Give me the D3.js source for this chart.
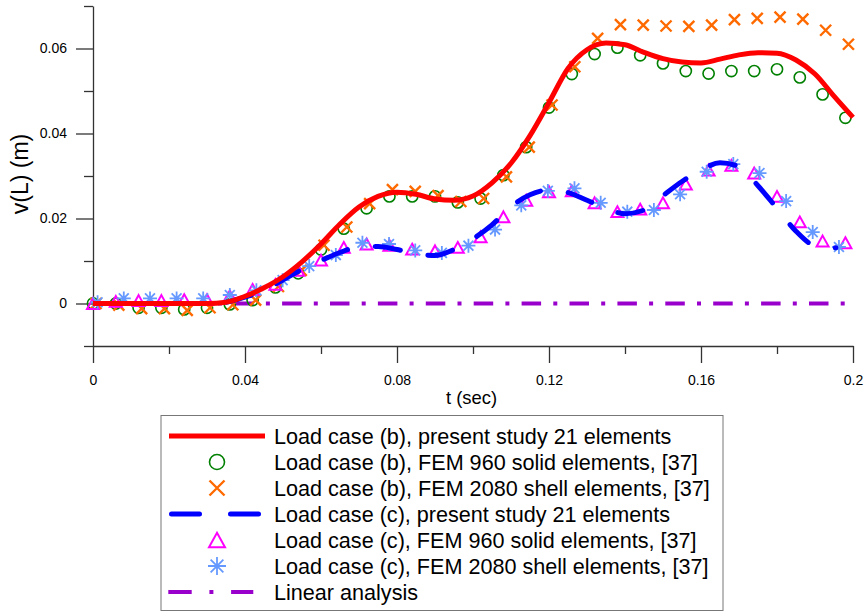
<!DOCTYPE html>
<html><head><meta charset="utf-8">
<script src="https://cdn.jsdelivr.net/npm/d3@7"></script>
<style>
html,body{margin:0;padding:0;background:#fff;}
svg{display:block;font-family:"Liberation Sans",Arial,sans-serif;}
</style></head>
<body>
<svg id="chart" width="866" height="612"></svg>
<script>
// ---- data ----
const xTicksMajor = [0, 0.04, 0.08, 0.12, 0.16, 0.2];
const xTicksMinor = [0.02, 0.06, 0.1, 0.14, 0.18];
const yTicksMajor = [0, 0.02, 0.04, 0.06];
const yTicksMinor = [-0.01, 0.01, 0.03, 0.05, 0.07];

const tRed = [0, 0.01, 0.02, 0.03, 0.035, 0.04, 0.045, 0.05, 0.055, 0.06, 0.065, 0.07, 0.075, 0.08, 0.085, 0.09, 0.095, 0.1, 0.105, 0.11, 0.115, 0.12, 0.125, 0.13, 0.135, 0.14, 0.145, 0.15, 0.155, 0.16, 0.165, 0.17, 0.175, 0.18, 0.185, 0.19, 0.195, 0.2];
const redV = [0, 0, 0, 0, 0.0003, 0.0017, 0.0037, 0.0063, 0.0098, 0.014, 0.0187, 0.0227, 0.0252, 0.0262, 0.0257, 0.0246, 0.0243, 0.0253, 0.0284, 0.033, 0.0395, 0.0473, 0.0553, 0.0597, 0.0613, 0.0609, 0.0591, 0.0576, 0.0568, 0.0566, 0.0575, 0.0585, 0.059, 0.0589, 0.0573, 0.054, 0.0488, 0.0438];
const tBlue = [0, 0.01, 0.02, 0.03, 0.035, 0.04, 0.045, 0.05, 0.055, 0.06, 0.065, 0.07, 0.075, 0.08, 0.085, 0.09, 0.095, 0.1, 0.105, 0.11, 0.115, 0.12, 0.125, 0.13, 0.135, 0.14, 0.145, 0.15, 0.155, 0.16, 0.165, 0.17, 0.175, 0.18, 0.185, 0.19, 0.1955];
const blueV = [0, 0, 0, 0, 0.0003, 0.0015, 0.003, 0.0056, 0.008, 0.0101, 0.012, 0.0133, 0.0134, 0.0127, 0.0117, 0.0113, 0.0127, 0.0152, 0.0185, 0.0228, 0.0256, 0.0267, 0.0261, 0.0243, 0.0224, 0.0211, 0.022, 0.0254, 0.0287, 0.0314, 0.0331, 0.0322, 0.0277, 0.0224, 0.017, 0.0136, 0.0131];

const linT = [0, 0.2];
const linV = [0, 0];

const circT = [0, 0.006, 0.012, 0.018, 0.024, 0.030, 0.036, 0.042, 0.048, 0.054, 0.060, 0.066, 0.072, 0.078, 0.084, 0.090, 0.096, 0.102, 0.108, 0.114, 0.120, 0.126, 0.132, 0.138, 0.144, 0.150, 0.156, 0.162, 0.168, 0.174, 0.180, 0.186, 0.192, 0.198];
const circV = [0, 0, -0.001, -0.001, -0.0014, -0.001, -0.0002, 0.0008, 0.0038, 0.0071, 0.0127, 0.0176, 0.0224, 0.0252, 0.0252, 0.0252, 0.0238, 0.0247, 0.0302, 0.0368, 0.0461, 0.054, 0.0587, 0.0602, 0.0584, 0.0565, 0.0547, 0.0541, 0.0547, 0.0547, 0.0551, 0.0532, 0.0492, 0.0437];

const crossT = [0.0008, 0.0068, 0.0128, 0.0188, 0.0248, 0.0308, 0.0368, 0.0428, 0.0488, 0.0548, 0.0608, 0.0668, 0.0728, 0.0788, 0.0848, 0.0908, 0.0968, 0.1028, 0.1088, 0.1148, 0.1208, 0.1268, 0.1328, 0.1388, 0.1448, 0.1508, 0.1568, 0.1628, 0.1688, 0.1748, 0.1808, 0.1868, 0.1928, 0.1988];
const crossV = [0, -0.0004, -0.0012, -0.0012, -0.0016, -0.001, -0.0003, 0.0008, 0.004, 0.0078, 0.0137, 0.018, 0.0235, 0.0268, 0.0264, 0.0254, 0.024, 0.0247, 0.0298, 0.0368, 0.0467, 0.0557, 0.0624, 0.0656, 0.0655, 0.0653, 0.0652, 0.0655, 0.0668, 0.0671, 0.0674, 0.0669, 0.0643, 0.061];

const triT = [0, 0.006, 0.012, 0.018, 0.024, 0.030, 0.036, 0.042, 0.048, 0.054, 0.060, 0.066, 0.072, 0.078, 0.084, 0.090, 0.096, 0.102, 0.108, 0.114, 0.120, 0.126, 0.132, 0.138, 0.144, 0.150, 0.156, 0.162, 0.168, 0.174, 0.180, 0.186, 0.192, 0.198];
const triV = [0, 0.0005, 0.0007, 0.0007, 0.0009, 0.0009, 0.0018, 0.0033, 0.0045, 0.0078, 0.0102, 0.0132, 0.014, 0.0137, 0.0128, 0.0124, 0.0132, 0.0157, 0.0204, 0.0243, 0.0263, 0.0265, 0.0237, 0.0216, 0.0222, 0.0237, 0.0281, 0.0314, 0.0325, 0.0307, 0.0252, 0.0192, 0.0147, 0.0143];

const astT = [0.0012, 0.0081, 0.015, 0.022, 0.029, 0.036, 0.043, 0.0499, 0.0569, 0.0639, 0.0709, 0.0779, 0.0848, 0.0918, 0.0988, 0.1058, 0.1127, 0.1197, 0.1267, 0.1336, 0.1406, 0.1476, 0.1545, 0.1615, 0.1685, 0.1754, 0.1824, 0.1894, 0.1963];
const astV = [0.0003, 0.0012, 0.0012, 0.0012, 0.0012, 0.002, 0.0031, 0.0055, 0.0088, 0.0114, 0.0143, 0.014, 0.0125, 0.0119, 0.0136, 0.0174, 0.0231, 0.0265, 0.0271, 0.0237, 0.0216, 0.022, 0.0257, 0.031, 0.0328, 0.0307, 0.0241, 0.0168, 0.0133];

const legendLabels = [
  "Load case (b), present study 21 elements",
  "Load case (b), FEM 960 solid elements, [37]",
  "Load case (b), FEM 2080 shell elements, [37]",
  "Load case (c), present study 21 elements",
  "Load case (c), FEM 960 solid elements, [37]",
  "Load case (c), FEM 2080 shell elements, [37]",
  "Linear analysis"
];
const xLabel = "t (sec)";
const yLabel = "v(L) (m)";

// ---- styles ----
const C = {red:"#ff0000", blue:"#0000ff", purple:"#9900cc", green:"#008000",
           orange:"#ff6a00", magenta:"#ff00ff", ast:"#6699ff", axis:"#333"};

const svg = d3.select("#chart");
svg.append("rect").attr("width",866).attr("height",612).attr("fill","#fff");

const x = d3.scaleLinear().domain([0, 0.2]).range([93, 853]);
const y = d3.scaleLinear().domain([-0.01, 0.07]).range([346, 6]);
const fmt = d3.format("~g");

// axes
const gx = svg.append("g").attr("transform","translate(0,346)");
gx.call(d3.axisBottom(x).tickValues(xTicksMajor).tickSize(17).tickSizeOuter(0).tickPadding(12).tickFormat(fmt));
const gxm = svg.append("g").attr("transform","translate(0,346)");
gxm.call(d3.axisBottom(x).tickValues(xTicksMinor).tickSize(8).tickSizeOuter(0).tickFormat(""));
gxm.select(".domain").remove();

const gy = svg.append("g").attr("transform","translate(93,0)");
gy.call(d3.axisLeft(y).tickValues(yTicksMajor).tickSize(17).tickSizeOuter(0).tickPadding(9).tickFormat(fmt));
const gym = svg.append("g").attr("transform","translate(93,0)");
gym.call(d3.axisLeft(y).tickValues(yTicksMinor).tickSize(9).tickSizeOuter(0).tickFormat(""));
gym.select(".domain").remove();

svg.selectAll(".domain, .tick line").attr("stroke", C.axis).attr("stroke-width", 1.3);
svg.selectAll(".tick text").attr("fill","#000").attr("font-size", 14)
   .attr("font-family", "'Liberation Sans', Arial, sans-serif");

svg.append("text").attr("x", 471.5).attr("y", 404).attr("text-anchor","middle")
   .attr("font-size", 18.4).text(xLabel);
svg.append("text").attr("transform","translate(28,174) rotate(-90)").attr("text-anchor","middle")
   .attr("font-size", 23).text(yLabel);

// line generators
const lineGen = d3.line().x(d => x(d[0])).y(d => y(d[1])).curve(d3.curveMonotoneX);
const zip = (a, b) => a.map((v, i) => [v, b[i]]);

// linear analysis
svg.append("path").attr("d", lineGen(zip(linT, linV))).attr("fill","none")
   .attr("stroke", C.purple).attr("stroke-width", 4)
   .attr("stroke-dasharray","19.5,12.2,4,12.2").attr("stroke-dashoffset", 2.5);

// markers
const mk = svg.append("g");
function circleSym(g, cx, cy, r) {
  g.append("circle").attr("cx",cx).attr("cy",cy).attr("r",r).attr("fill","none")
   .attr("stroke", C.green).attr("stroke-width",1.6);
}
function crossSym(g, cx, cy, s) {
  g.append("path").attr("d",`M${cx-s},${cy-s}L${cx+s},${cy+s}M${cx-s},${cy+s}L${cx+s},${cy-s}`)
   .attr("stroke", C.orange).attr("stroke-width",2.4).attr("fill","none");
}
function triSym(g, cx, cy, s) {
  const h = s*0.9;
  g.append("path").attr("d",`M${cx},${cy-h}L${cx+s},${cy+h}L${cx-s},${cy+h}Z`)
   .attr("stroke", C.magenta).attr("stroke-width",2).attr("fill","none").attr("stroke-linejoin","miter");
}
function astSym(g, cx, cy, s) {
  const d = s*0.7071;
  g.append("path").attr("d",`M${cx},${cy-s}L${cx},${cy+s}M${cx-s},${cy}L${cx+s},${cy}M${cx-d},${cy-d}L${cx+d},${cy+d}M${cx-d},${cy+d}L${cx+d},${cy-d}`)
   .attr("stroke", C.ast).attr("stroke-width",1.8).attr("fill","none");
}
circT.forEach((t,i) => circleSym(mk, x(t), y(circV[i]), 5.6));
crossT.forEach((t,i) => crossSym(mk, x(t), y(crossV[i]), 5.5));
triT.forEach((t,i) => triSym(mk, x(t), y(triV[i]), 6));
astT.forEach((t,i) => astSym(mk, x(t), y(astV[i]), 7));

// blue dashed line
const bluePath = svg.append("path").attr("d", lineGen(zip(tBlue, blueV))).attr("fill","none")
   .attr("stroke", C.blue).attr("stroke-width", 5).attr("stroke-linecap","round");
(function alignDash(){
  const node = bluePath.node();
  const total = node.getTotalLength();
  const target = 515; // visible start of a dash near t=0.111
  let L0 = 0;
  for (let s = 0; s <= total; s += 0.5) { if (node.getPointAtLength(s).x >= target) { L0 = s; break; } }
  L0 += 2.5;
  const P = 25.5 + 28;
  bluePath.attr("stroke-dasharray","25.5,28").attr("stroke-dashoffset", (P - (L0 % P)) % P);
})();

// red solid line
svg.append("path").attr("d", lineGen(zip(tRed, redV))).attr("fill","none")
   .attr("stroke", C.red).attr("stroke-width", 5);

// legend
const lg = svg.append("g");
lg.append("rect").attr("x",161).attr("y",415.5).attr("width",562).attr("height",195)
  .attr("fill","#fff").attr("stroke","#777").attr("stroke-width",1);
const rowY = i => 436 + 26*i;
legendLabels.forEach((lab,i) => {
  lg.append("text").attr("x",274).attr("y",rowY(i)).attr("dy","0.35em")
    .attr("font-size",21.6).attr("fill","#000").text(lab);
});
lg.append("line").attr("x1",169).attr("x2",265).attr("y1",rowY(0)).attr("y2",rowY(0))
  .attr("stroke",C.red).attr("stroke-width",5);
circleSym(lg, 217, rowY(1), 7.5);
crossSym(lg, 217, rowY(2), 7.5);
lg.append("line").attr("x1",171.5).attr("x2",258.5).attr("y1",rowY(3)).attr("y2",rowY(3))
  .attr("stroke",C.blue).attr("stroke-width",5).attr("stroke-linecap","round")
  .attr("stroke-dasharray","28,31");
triSym(lg, 217, rowY(4), 8);
astSym(lg, 217, rowY(5), 9);
lg.append("line").attr("x1",168.3).attr("x2",253.3).attr("y1",rowY(6)).attr("y2",rowY(6))
  .attr("stroke",C.purple).attr("stroke-width",4)
  .attr("stroke-dasharray","23.4,17.7,4,17.7");
</script>
</body></html>
